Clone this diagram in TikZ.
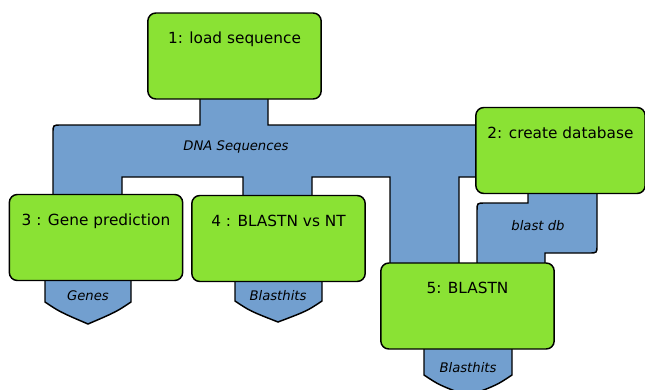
\documentclass[tikz,border=0pt]{standalone}
\usepackage{fontspec}
\setmainfont{DejaVu Sans}
\definecolor{boxgreen}{HTML}{8AE234}
\definecolor{flowblue}{HTML}{729FCF}
\tikzset{
  stepbox/.style={draw=black, line width=1.1pt, fill=boxgreen, rounded corners=6pt,
    minimum width=130pt, inner sep=0pt, text height=23pt, text depth=41.5pt,
    font=\fontsize{11.5}{13}\selectfont},
  flowpath/.style={draw=black, line width=1.1pt, fill=flowblue},
  flowlabel/.style={inner sep=0pt, font=\fontsize{9.9}{11}\selectfont\itshape}
}
\begin{document}
\begin{tikzpicture}[x=0.75pt, y=-0.75pt]%pipeline
\useasboundingbox (0,0) rectangle (645,389);
%DNA sequences
\draw [flowpath] (200,95) -- (200,125) -- (61,125) .. controls (53,125) .. (53,133)
  -- (53,198) -- (122,198) -- (122,177) -- (243,177) -- (243,198) -- (312,198)
  -- (312,177) -- (390,177) -- (390,266) -- (459,266) -- (459,177) -- (480,177)
  -- (480,125) -- (268,125) -- (268,95) -- cycle;
%blast db
\draw [flowpath] (528,190) -- (528,203) -- (485,203) .. controls (477,203) .. (477,211)
  -- (477,266) -- (545,266) -- (545,253) -- (589,253) .. controls (597,253) .. (597,245)
  -- (597,190) -- cycle;
%outputs
\draw [flowpath] (45,277) -- (45,302) .. controls (60,312) .. (88,324) .. controls (116,312) .. (131,302) -- (131,277) -- cycle;
\draw [flowpath] (235,277) -- (235,301) .. controls (250,311) .. (278,322) .. controls (307,311) .. (322,301) -- (322,277) -- cycle;
\draw [flowpath] (424,345) -- (424,375) .. controls (439,385) .. (468,396) .. controls (497,385) .. (512,375) -- (512,345) -- cycle;
\node [flowlabel] (dnaseq) at (236,147) {DNA Sequences};
\node [flowlabel] (blastdb) at (538,226) {blast db};
\node [flowlabel] (genes) at (88,296) {Genes};
\node [flowlabel] (hitsnt) at (278,296) {Blasthits};
\node [flowlabel] (hitsn) at (468,368) {Blasthits};
%steps
\node [stepbox] (load) at (234.5,56) {1: load sequence};
\node [stepbox, minimum width=127pt] (createdb) at (560.5,150.5) {2: create database};
\node [stepbox] (genepred) at (96,237.5) {3 : Gene prediction};
\node [stepbox] (blastnt) at (278.5,238.5) {4 : BLASTN vs NT};
\node [stepbox] (blastn) at (467.5,306) {5: BLASTN};
\end{tikzpicture}
\end{document}
